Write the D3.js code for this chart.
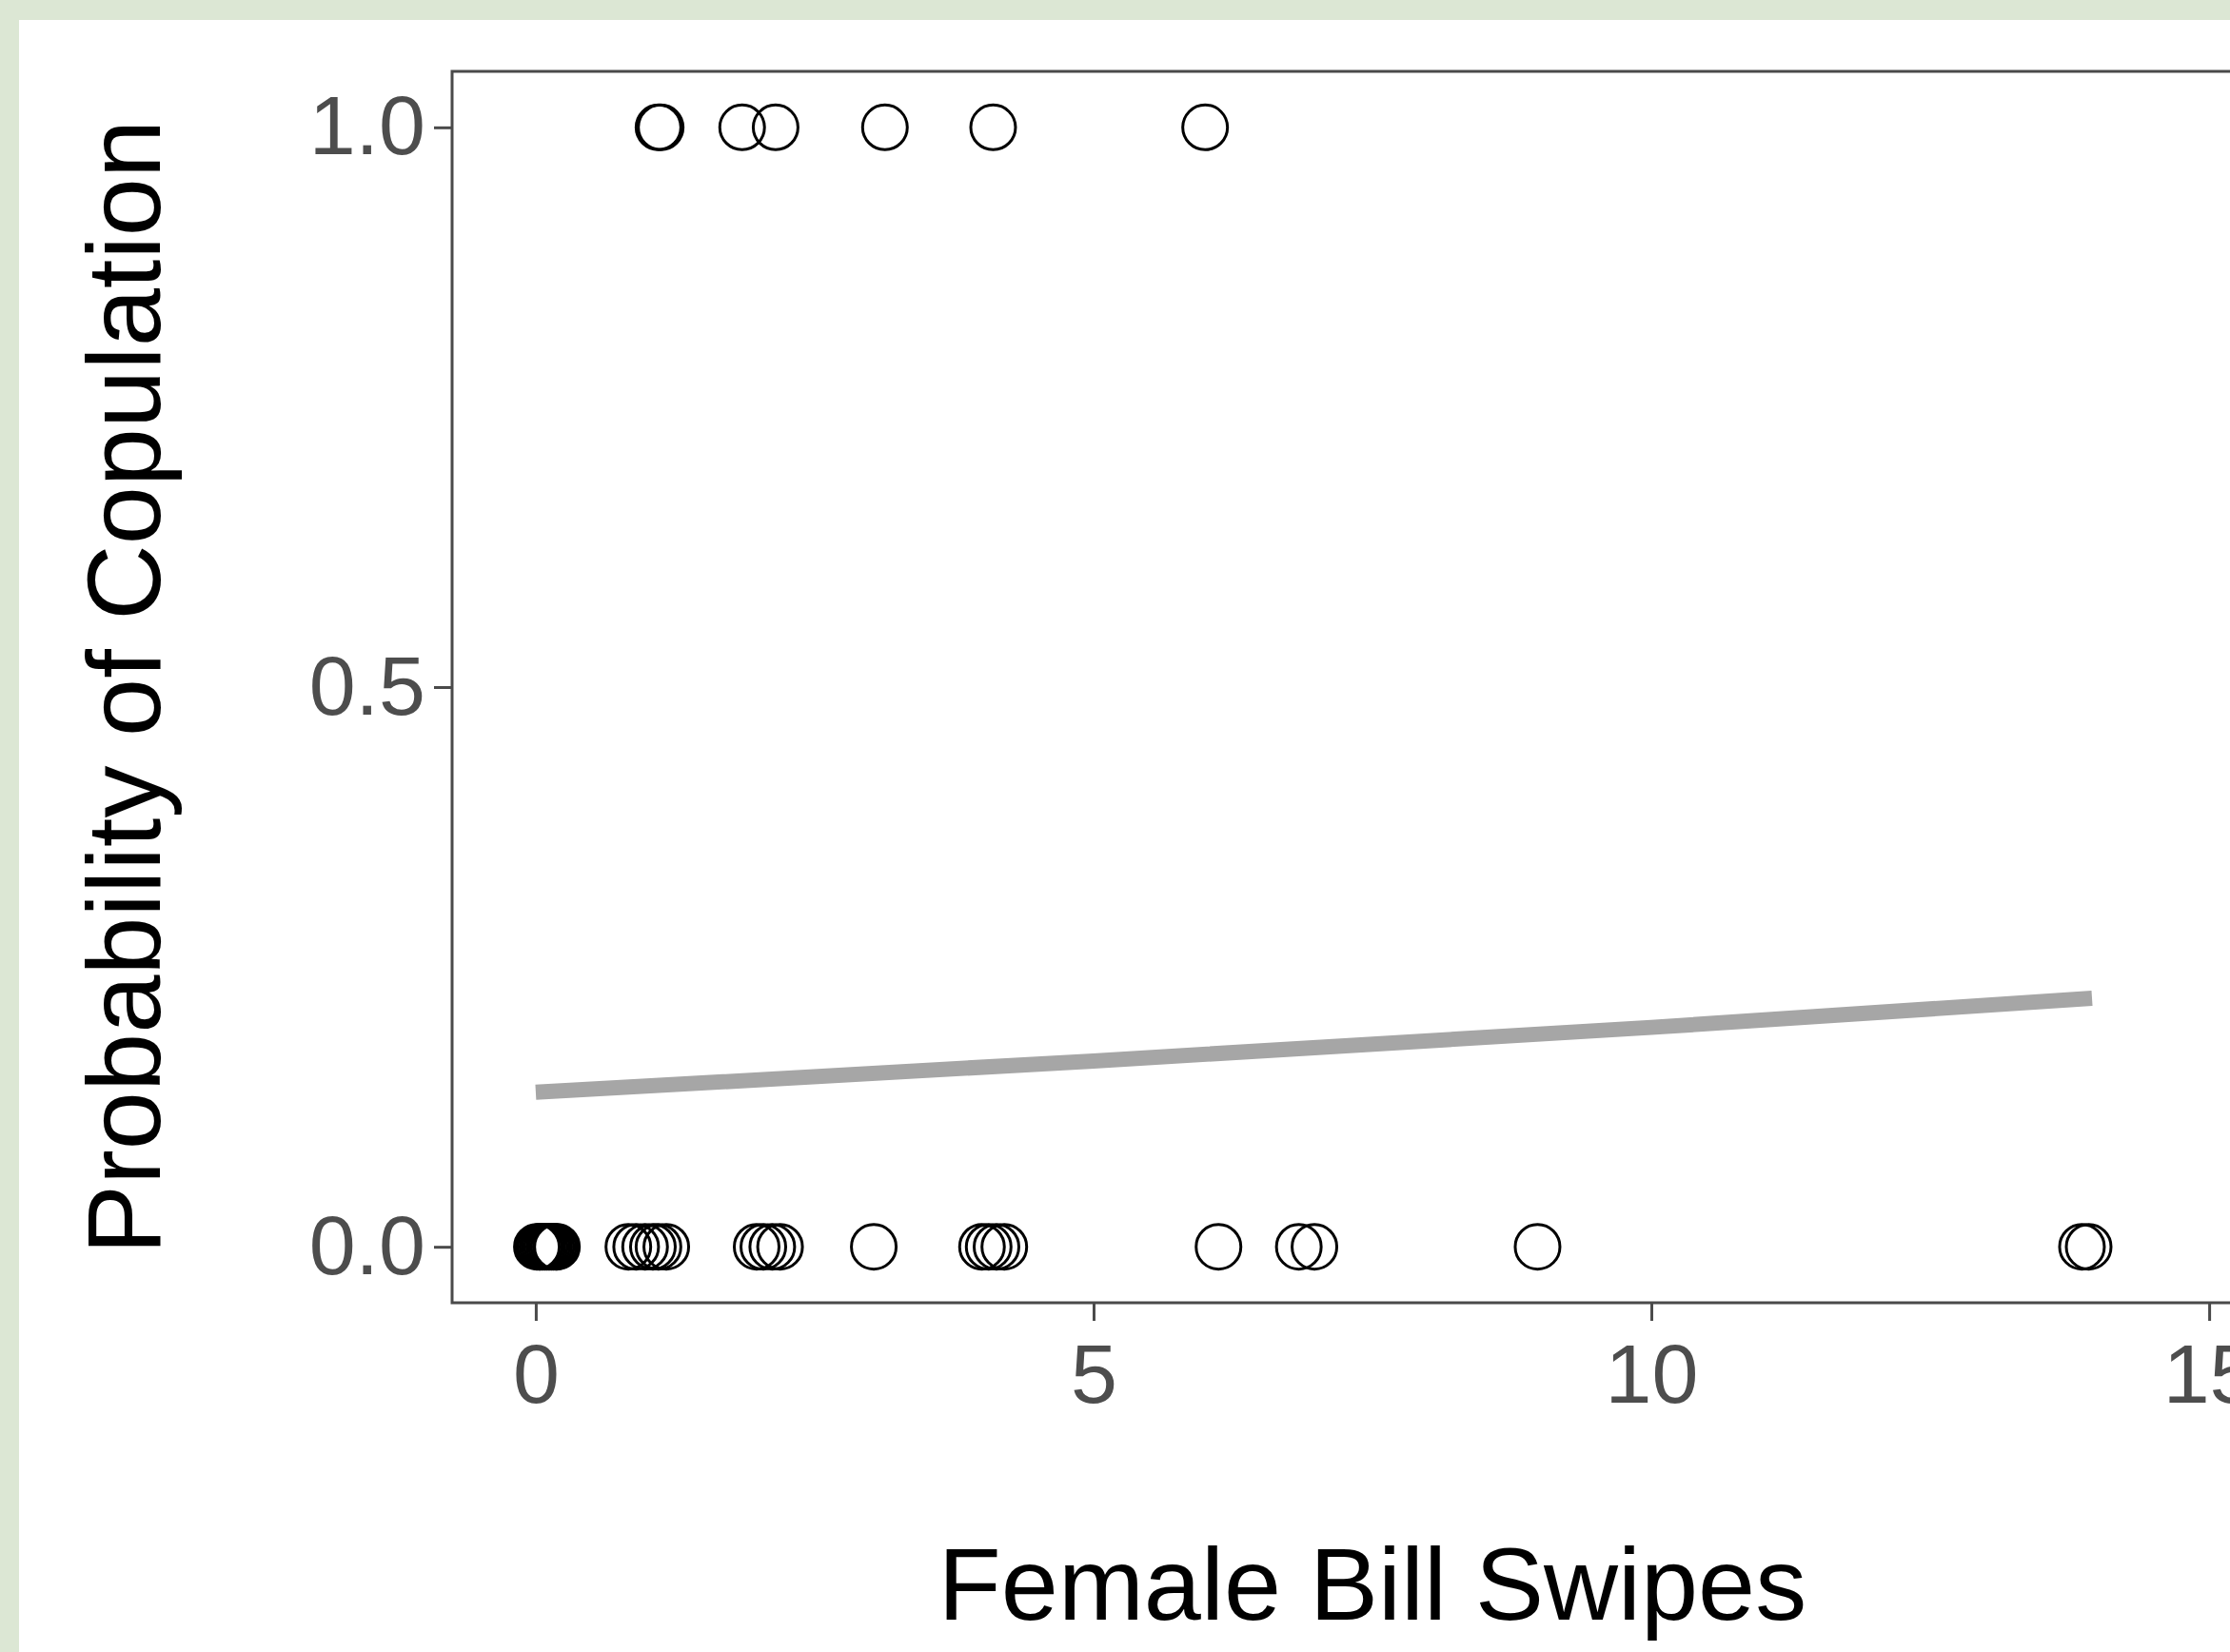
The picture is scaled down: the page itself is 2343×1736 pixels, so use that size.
<!DOCTYPE html>
<html>
<head>
<meta charset="utf-8">
<script src="https://cdn.jsdelivr.net/npm/d3@7"></script>
<style>
  html, body { margin: 0; padding: 0; background: #dce7d4; }
  svg { display: block; }
  text { font-family: "Liberation Sans", Arial, sans-serif; }
</style>
</head>
<body>
<svg id="chart" width="2343" height="1736"></svg>
<script>
// ---- data ----
// Female bill swipes for trials without copulation (y = 0), jittered
const swipesNoCopulation = [0.01, 0.03, 0.04, 0.06, 0.08, 0.10, 0.12, 0.14, 0.16, 0.18, 0.19,
  0.83, 0.90, 0.98, 1.05, 1.10, 1.17,
  1.98, 2.04, 2.12, 2.19,
  3.03,
  4.00, 4.06, 4.13, 4.20,
  6.12,
  6.84, 6.98,
  8.98,
  13.86, 13.92];
// Female bill swipes for trials with copulation (y = 1)
const swipesCopulation = [1.10, 1.12, 1.85, 2.15, 3.13, 4.10, 6.00];
// fitted logistic curve, read at a few x positions
const fitX = [0, 5, 10, 13.95];
const fitP = [0.138, 0.166, 0.196, 0.222];
const xTicks = [0, 5, 10, 15];
const yTicks = [0, 0.5, 1.0];
const xTitle = "Female Bill Swipes";
const yTitle = "Probability of Copulation";

// ---- layout ----
const W = 2343, H = 1736;
const panel = { left: 475, right: 2409, top: 75, bottom: 1369 };

const svg = d3.select("#chart");
svg.append("rect").attr("x", 0).attr("y", 0).attr("width", W).attr("height", H).attr("fill", "#dce7d4");
svg.append("rect").attr("x", 20).attr("y", 21).attr("width", W - 20).attr("height", H - 21).attr("fill", "#ffffff");

const x = d3.scaleLinear().domain([-0.75, 15.75]).range([panel.left, panel.right]);
const y = d3.scaleLinear().domain([-0.05, 1.05]).range([panel.bottom, panel.top]);

// panel background
svg.append("rect")
  .attr("x", panel.left).attr("y", panel.top)
  .attr("width", panel.right - panel.left).attr("height", panel.bottom - panel.top)
  .attr("fill", "#ffffff");

// fitted line
const line = d3.line().x((d, i) => x(fitX[i])).y(d => y(d));
svg.append("path")
  .datum(fitP)
  .attr("d", line)
  .attr("fill", "none")
  .attr("stroke", "#a6a6a6")
  .attr("stroke-width", 16);

// points
const pts = swipesNoCopulation.map(v => ({ x: v, y: 0 }))
  .concat(swipesCopulation.map(v => ({ x: v, y: 1 })));
svg.append("g").selectAll("circle")
  .data(pts).join("circle")
  .attr("cx", d => x(d.x))
  .attr("cy", d => y(d.y))
  .attr("r", 23.5)
  .attr("fill", "none")
  .attr("stroke", "#000000")
  .attr("stroke-width", 3);

// panel border
svg.append("rect")
  .attr("x", panel.left).attr("y", panel.top)
  .attr("width", panel.right - panel.left).attr("height", panel.bottom - panel.top)
  .attr("fill", "none")
  .attr("stroke", "#4a4a4a")
  .attr("stroke-width", 3);

// axes
const axisColor = "#4a4a4a";
const labelColor = "#4d4d4d";

const gx = svg.append("g")
  .attr("transform", `translate(0,${panel.bottom})`)
  .call(d3.axisBottom(x).tickValues(xTicks).tickFormat(d3.format("d")).tickSize(19).tickPadding(24));
gx.select(".domain").remove();
gx.selectAll(".tick line").attr("stroke", axisColor).attr("stroke-width", 3);
gx.selectAll(".tick text").attr("fill", labelColor).attr("font-size", 88)
  .attr("font-family", "'Liberation Sans', Arial, sans-serif");

const gy = svg.append("g")
  .attr("transform", `translate(${panel.left},0)`)
  .call(d3.axisLeft(y).tickValues(yTicks).tickFormat(d3.format(".1f")).tickSize(19).tickPadding(9));
gy.select(".domain").remove();
gy.selectAll(".tick line").attr("stroke", axisColor).attr("stroke-width", 3);
gy.selectAll(".tick text").attr("fill", labelColor).attr("font-size", 88)
  .attr("font-family", "'Liberation Sans', Arial, sans-serif");

// axis titles
svg.append("text")
  .attr("x", (panel.left + panel.right) / 2)
  .attr("y", 1702)
  .attr("text-anchor", "middle")
  .attr("font-size", 108)
  .attr("fill", "#000000")
  .text(xTitle);

svg.append("text")
  .attr("transform", `translate(168,${(panel.top + panel.bottom) / 2}) rotate(-90)`)
  .attr("text-anchor", "middle")
  .attr("font-size", 110)
  .attr("fill", "#000000")
  .text(yTitle);
</script>
</body>
</html>
